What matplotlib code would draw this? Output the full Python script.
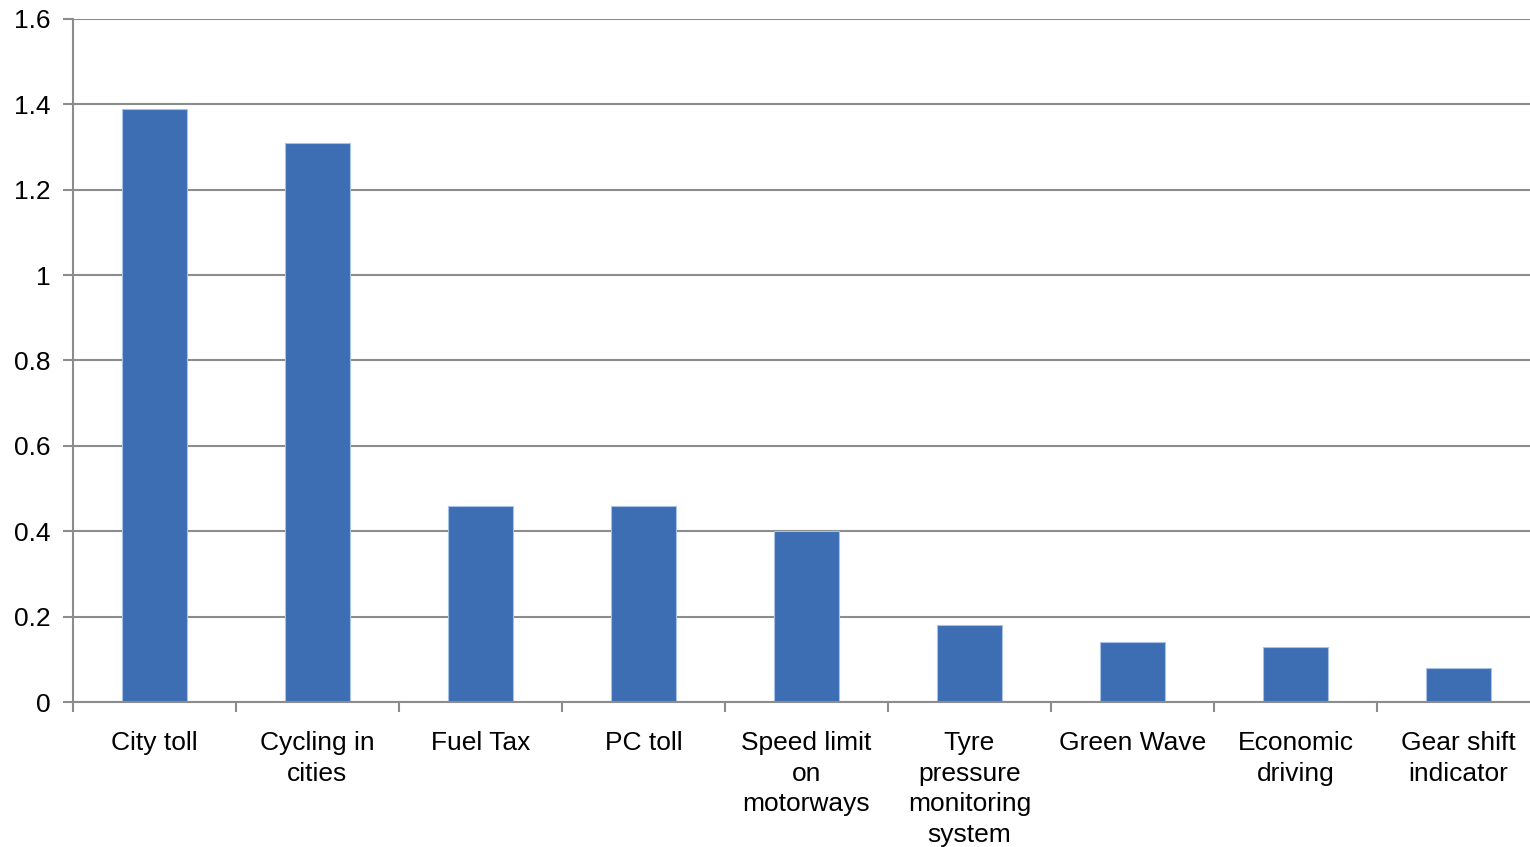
import matplotlib
matplotlib.use("Agg")
import matplotlib.pyplot as plt
import numpy as np

categories = [
    "City toll",
    "Cycling in\ncities",
    "Fuel Tax",
    "PC toll",
    "Speed limit\non\nmotorways",
    "Tyre\npressure\nmonitoring\nsystem",
    "Green Wave",
    "Economic\ndriving",
    "Gear shift\nindicator",
]
values = [1.39, 1.31, 0.46, 0.46, 0.40, 0.18, 0.14, 0.13, 0.08]
y_ticks = [0, 0.2, 0.4, 0.6, 0.8, 1, 1.2, 1.4, 1.6]
y_tick_labels = ["0", "0.2", "0.4", "0.6", "0.8", "1", "1.2", "1.4", "1.6"]

plt.rcParams["font.family"] = ["Liberation Sans", "DejaVu Sans"]

W, H = 1530, 847
fig = plt.figure(figsize=(W / 100, H / 100), dpi=100)
ax = fig.add_axes([73 / W, (H - 702) / H, (1540 - 73) / W, (702 - 19) / H])

grid_c = "#8c8c8c"
bar_c = "#3d6eb4"

x = np.arange(len(categories))
ax.bar(x, values, width=0.4, color=bar_c, edgecolor="#a9c1e3", linewidth=0.8, zorder=3)

ax.set_xlim(-0.5, len(categories) - 0.5)
ax.set_ylim(0, 1.6)

ax.set_yticks(y_ticks)
ax.set_yticklabels(y_tick_labels, fontsize=19)
ax.yaxis.grid(True, color=grid_c, linewidth=1.5, zorder=0)

# category labels at centres, tick marks at the category boundaries
ax.set_xticks(x)
ax.set_xticklabels(categories, fontsize=19, linespacing=1.34)
ax.tick_params(axis="x", length=0, pad=21)
ax.set_xticks(np.arange(len(categories) + 1) - 0.5, minor=True)
ax.tick_params(axis="x", which="minor", length=7, width=1.5, color=grid_c, direction="out")
ax.tick_params(axis="y", length=7, width=1.5, color=grid_c, direction="out", pad=9)

for side in ("top", "right"):
    ax.spines[side].set_visible(False)
for side in ("left", "bottom"):
    ax.spines[side].set_color(grid_c)
    ax.spines[side].set_linewidth(1.5)
    ax.spines[side].set_zorder(4)

fig.savefig("out.png", dpi=100)
